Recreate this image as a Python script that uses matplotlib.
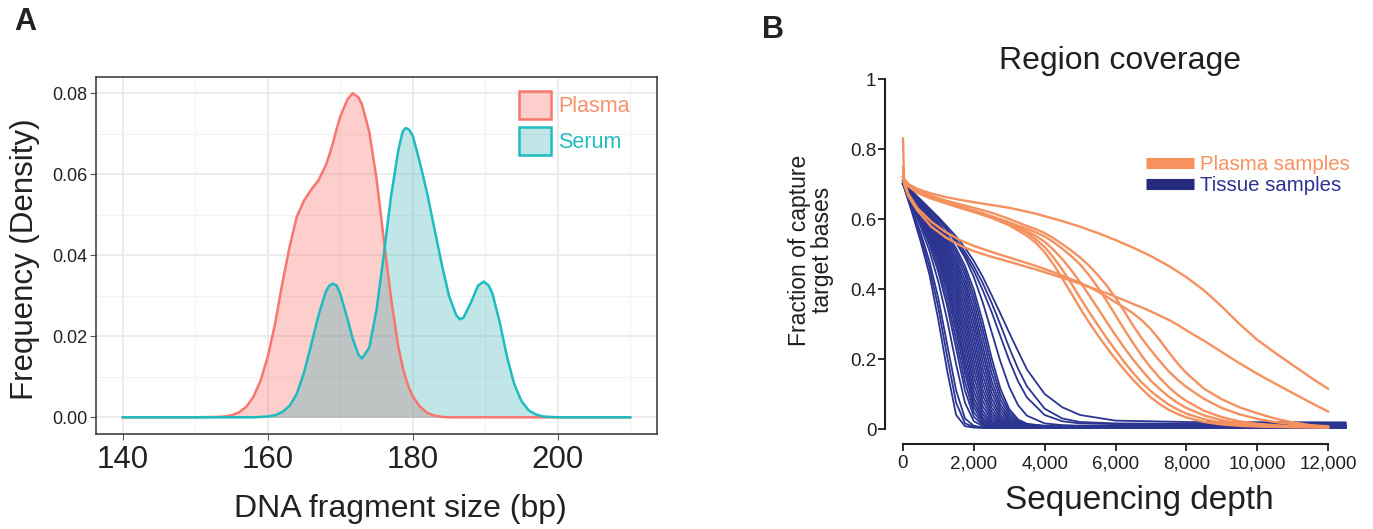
import matplotlib
matplotlib.use("Agg")
import matplotlib.pyplot as plt
from matplotlib.lines import Line2D
from matplotlib.patches import Patch

# ---------------- Panel A data ----------------
size_bp = [140, 150, 153, 154, 155, 156, 157, 158, 159, 160, 161, 162, 163, 164, 165,
           166, 167, 168, 168.5, 169, 169.5, 170, 171, 171.7, 172.5, 173, 174, 175, 176,
           177, 178, 178.6, 179, 179.5, 180, 181, 182, 183, 184, 185, 186, 186.5, 187,
           188, 189, 189.8, 190.5, 191, 192, 193, 194, 195, 196, 197, 198, 199, 200, 210]
plasma_density = [0, 0, 0.0001, 0.0002, 0.0005, 0.0012, 0.0025, 0.005, 0.009, 0.015,
                  0.023, 0.033, 0.042, 0.0495, 0.0535, 0.0562, 0.0585, 0.0622, 0.0648,
                  0.0678, 0.0712, 0.0742, 0.0785, 0.0800, 0.0790, 0.0772, 0.0705, 0.0590,
                  0.0440, 0.0295, 0.0175, 0.0125, 0.0098, 0.0072, 0.0052, 0.0026, 0.0011,
                  0.0004, 0.0001, 0, 0, 0, 0, 0, 0, 0, 0, 0, 0, 0, 0, 0, 0, 0, 0, 0, 0, 0]
serum_density = [0, 0, 0, 0, 0, 0, 0, 0, 0.0001, 0.0002, 0.0005, 0.0013, 0.0028, 0.0058,
                 0.011, 0.018, 0.0252, 0.031, 0.0325, 0.0330, 0.0325, 0.0305, 0.0243,
                 0.0195, 0.0155, 0.0145, 0.0172, 0.0265, 0.040, 0.0545, 0.0658, 0.0705,
                 0.0714, 0.0710, 0.0695, 0.0628, 0.0552, 0.0465, 0.0378, 0.0300, 0.0252,
                 0.0242, 0.0246, 0.0282, 0.0325, 0.0335, 0.0325, 0.0305, 0.0235, 0.0150,
                 0.0082, 0.0040, 0.0017, 0.0007, 0.0002, 0.0001, 0, 0]
a_groups = ["Plasma", "Serum"]
a_xticks = [140, 160, 180, 200]
a_xminor = [150, 170, 190, 210]
a_yticks = [0.00, 0.02, 0.04, 0.06, 0.08]
a_yminor = [0.01, 0.03, 0.05, 0.07]
a_ytick_labels = ["0.00", "0.02", "0.04", "0.06", "0.08"]

# ---------------- Panel B data ----------------
depth_plasma = [0, 30, 150, 400, 800, 1200, 1600, 2000, 2500, 3000, 3500, 3750, 4000, 4250,
                4500, 4750, 5000, 5250, 5500, 5750, 6000, 6250, 6500, 6750, 7000, 7250, 7500,
                7750, 8000, 8500, 9000, 9500, 10000, 10500, 11000, 11500, 12000]
plasma_curves = [
    [0.83, 0.715, 0.70, 0.686, 0.673, 0.663, 0.655, 0.648, 0.64, 0.632, 0.621, 0.615, 0.608, 0.601,
     0.594, 0.586, 0.578, 0.569, 0.56, 0.55, 0.54, 0.529, 0.518, 0.506, 0.494, 0.48, 0.466,
     0.45, 0.434, 0.396, 0.35, 0.30, 0.255, 0.218, 0.183, 0.148, 0.115],
    [0.73, 0.70, 0.665, 0.625, 0.578, 0.548, 0.525, 0.508, 0.492, 0.478, 0.463, 0.456, 0.448, 0.44,
     0.432, 0.424, 0.415, 0.406, 0.397, 0.388, 0.378, 0.368, 0.357, 0.347, 0.336, 0.324, 0.312,
     0.298, 0.282, 0.252, 0.22, 0.188, 0.158, 0.13, 0.103, 0.076, 0.05],
    [0.75, 0.71, 0.672, 0.632, 0.592, 0.563, 0.54, 0.523, 0.506, 0.49, 0.474, 0.466, 0.457, 0.448,
     0.438, 0.428, 0.418, 0.406, 0.393, 0.378, 0.362, 0.347, 0.33, 0.31, 0.285, 0.254, 0.22,
     0.188, 0.16, 0.115, 0.085, 0.062, 0.045, 0.03, 0.019, 0.011, 0.006],
    [0.72, 0.71, 0.698, 0.682, 0.666, 0.653, 0.642, 0.632, 0.618, 0.60, 0.58, 0.571, 0.56, 0.545,
     0.528, 0.51, 0.49, 0.467, 0.44, 0.41, 0.375, 0.336, 0.295, 0.258, 0.225, 0.194, 0.165,
     0.141, 0.12, 0.086, 0.06, 0.042, 0.029, 0.02, 0.014, 0.01, 0.008],
    [0.72, 0.705, 0.695, 0.678, 0.66, 0.647, 0.635, 0.624, 0.608, 0.59, 0.572, 0.562, 0.55, 0.534,
     0.515, 0.494, 0.47, 0.44, 0.405, 0.366, 0.325, 0.284, 0.245, 0.208, 0.175, 0.146, 0.12,
     0.098, 0.08, 0.052, 0.034, 0.022, 0.015, 0.011, 0.008, 0.007, 0.006],
    [0.72, 0.71, 0.695, 0.675, 0.658, 0.645, 0.632, 0.62, 0.603, 0.582, 0.552, 0.532, 0.505, 0.47,
     0.43, 0.388, 0.345, 0.305, 0.268, 0.233, 0.20, 0.169, 0.14, 0.114, 0.09, 0.071, 0.055,
     0.043, 0.033, 0.02, 0.013, 0.009, 0.007, 0.006, 0.005, 0.005, 0.004],
    [0.72, 0.708, 0.696, 0.678, 0.662, 0.648, 0.636, 0.624, 0.607, 0.587, 0.56, 0.542, 0.52, 0.49,
     0.455, 0.416, 0.375, 0.335, 0.297, 0.26, 0.225, 0.191, 0.16, 0.132, 0.108, 0.088, 0.07,
     0.056, 0.044, 0.028, 0.018, 0.012, 0.009, 0.007, 0.006, 0.005, 0.005],
    [0.72, 0.706, 0.694, 0.676, 0.66, 0.646, 0.634, 0.622, 0.606, 0.59, 0.565, 0.552, 0.535, 0.512,
     0.485, 0.454, 0.42, 0.383, 0.345, 0.306, 0.268, 0.232, 0.198, 0.167, 0.138, 0.114, 0.093,
     0.075, 0.06, 0.039, 0.025, 0.016, 0.011, 0.008, 0.007, 0.006, 0.005],
]

depth_tissue = [0, 100, 250, 500, 750, 1000, 1250, 1500, 1750, 2000, 2250, 2500, 2750, 3000,
                3250, 3500, 4000, 4500, 5000, 6000, 8000, 12500]
tissue_curves = [
    [0.705, 0.67, 0.62, 0.535, 0.44, 0.31, 0.165, 0.04, 0.008, 0.004, 0.003, 0.003, 0.003, 0.003, 0.003, 0.003, 0.003, 0.003, 0.003, 0.003, 0.003, 0.003],
    [0.70, 0.668, 0.625, 0.548, 0.46, 0.345, 0.205, 0.075, 0.016, 0.006, 0.004, 0.004, 0.004, 0.004, 0.004, 0.004, 0.004, 0.004, 0.004, 0.004, 0.004, 0.004],
    [0.71, 0.675, 0.632, 0.56, 0.478, 0.372, 0.24, 0.11, 0.03, 0.009, 0.005, 0.004, 0.004, 0.004, 0.004, 0.004, 0.004, 0.004, 0.004, 0.004, 0.004, 0.004],
    [0.70, 0.675, 0.64, 0.578, 0.508, 0.42, 0.31, 0.185, 0.075, 0.022, 0.009, 0.006, 0.005, 0.005, 0.005, 0.005, 0.005, 0.005, 0.005, 0.005, 0.005, 0.005],
    [0.71, 0.68, 0.645, 0.588, 0.525, 0.448, 0.35, 0.23, 0.11, 0.035, 0.012, 0.007, 0.005, 0.005, 0.005, 0.005, 0.005, 0.005, 0.005, 0.005, 0.005, 0.005],
    [0.70, 0.678, 0.646, 0.594, 0.535, 0.462, 0.37, 0.255, 0.135, 0.048, 0.016, 0.008, 0.006, 0.006, 0.006, 0.006, 0.006, 0.006, 0.006, 0.006, 0.006, 0.006],
    [0.71, 0.682, 0.65, 0.60, 0.545, 0.477, 0.39, 0.28, 0.16, 0.062, 0.021, 0.01, 0.006, 0.006, 0.006, 0.006, 0.006, 0.006, 0.006, 0.006, 0.006, 0.006],
    [0.70, 0.68, 0.651, 0.604, 0.552, 0.488, 0.405, 0.30, 0.18, 0.075, 0.026, 0.011, 0.007, 0.006, 0.006, 0.006, 0.006, 0.006, 0.006, 0.006, 0.006, 0.006],
    [0.71, 0.684, 0.654, 0.608, 0.558, 0.497, 0.418, 0.318, 0.20, 0.09, 0.033, 0.013, 0.008, 0.006, 0.006, 0.006, 0.006, 0.006, 0.006, 0.006, 0.006, 0.006],
    [0.70, 0.682, 0.655, 0.611, 0.563, 0.505, 0.432, 0.337, 0.222, 0.108, 0.042, 0.016, 0.009, 0.006, 0.006, 0.006, 0.006, 0.006, 0.006, 0.006, 0.006, 0.006],
    [0.71, 0.686, 0.657, 0.615, 0.569, 0.514, 0.445, 0.355, 0.245, 0.128, 0.052, 0.02, 0.01, 0.007, 0.007, 0.007, 0.007, 0.007, 0.007, 0.007, 0.007, 0.007],
    [0.70, 0.683, 0.657, 0.617, 0.573, 0.521, 0.456, 0.372, 0.266, 0.15, 0.065, 0.026, 0.012, 0.008, 0.007, 0.007, 0.007, 0.007, 0.007, 0.007, 0.007, 0.007],
    [0.71, 0.688, 0.661, 0.621, 0.578, 0.528, 0.467, 0.388, 0.287, 0.172, 0.08, 0.033, 0.015, 0.009, 0.007, 0.007, 0.007, 0.007, 0.007, 0.007, 0.007, 0.007],
    [0.70, 0.685, 0.66, 0.623, 0.582, 0.535, 0.477, 0.403, 0.307, 0.194, 0.096, 0.041, 0.018, 0.01, 0.007, 0.007, 0.007, 0.007, 0.007, 0.007, 0.007, 0.007],
    [0.71, 0.69, 0.664, 0.627, 0.587, 0.541, 0.486, 0.416, 0.326, 0.216, 0.113, 0.05, 0.022, 0.011, 0.008, 0.008, 0.008, 0.008, 0.008, 0.008, 0.008, 0.008],
    [0.70, 0.686, 0.663, 0.629, 0.591, 0.547, 0.495, 0.43, 0.345, 0.238, 0.132, 0.061, 0.027, 0.013, 0.008, 0.008, 0.008, 0.008, 0.008, 0.008, 0.008, 0.008],
    [0.71, 0.691, 0.667, 0.633, 0.595, 0.553, 0.503, 0.442, 0.363, 0.26, 0.152, 0.074, 0.033, 0.016, 0.009, 0.008, 0.008, 0.008, 0.008, 0.008, 0.008, 0.008],
    [0.70, 0.688, 0.666, 0.635, 0.599, 0.559, 0.512, 0.454, 0.38, 0.282, 0.173, 0.088, 0.04, 0.019, 0.01, 0.008, 0.008, 0.008, 0.008, 0.008, 0.008, 0.008],
    [0.71, 0.693, 0.67, 0.639, 0.603, 0.564, 0.519, 0.465, 0.396, 0.303, 0.195, 0.104, 0.049, 0.023, 0.012, 0.008, 0.008, 0.008, 0.008, 0.008, 0.008, 0.008],
    [0.70, 0.689, 0.668, 0.64, 0.606, 0.569, 0.527, 0.476, 0.411, 0.323, 0.217, 0.121, 0.059, 0.027, 0.013, 0.009, 0.009, 0.009, 0.009, 0.009, 0.009, 0.009],
    [0.71, 0.694, 0.672, 0.643, 0.61, 0.574, 0.534, 0.486, 0.425, 0.342, 0.238, 0.138, 0.07, 0.033, 0.016, 0.01, 0.008, 0.008, 0.008, 0.008, 0.008, 0.008],
    [0.70, 0.69, 0.67, 0.645, 0.614, 0.58, 0.542, 0.497, 0.44, 0.362, 0.262, 0.16, 0.084, 0.04, 0.019, 0.011, 0.008, 0.008, 0.008, 0.008, 0.008, 0.008],
    [0.71, 0.695, 0.674, 0.647, 0.617, 0.585, 0.549, 0.507, 0.453, 0.38, 0.285, 0.182, 0.099, 0.048, 0.023, 0.013, 0.009, 0.009, 0.009, 0.009, 0.009, 0.009],
    [0.70, 0.691, 0.672, 0.648, 0.62, 0.59, 0.556, 0.516, 0.466, 0.398, 0.307, 0.204, 0.115, 0.057, 0.027, 0.015, 0.009, 0.009, 0.009, 0.009, 0.009, 0.009],
    [0.71, 0.696, 0.676, 0.652, 0.626, 0.598, 0.567, 0.532, 0.49, 0.434, 0.362, 0.278, 0.193, 0.12, 0.068, 0.038, 0.016, 0.011, 0.009, 0.008, 0.007, 0.007],
    [0.70, 0.69, 0.673, 0.65, 0.625, 0.598, 0.568, 0.535, 0.497, 0.452, 0.397, 0.335, 0.265, 0.196, 0.136, 0.09, 0.04, 0.022, 0.016, 0.014, 0.013, 0.012],
    [0.71, 0.696, 0.677, 0.653, 0.628, 0.601, 0.572, 0.541, 0.506, 0.465, 0.417, 0.361, 0.298, 0.232, 0.172, 0.122, 0.058, 0.03, 0.02, 0.016, 0.015, 0.015],
    [0.71, 0.697, 0.68, 0.655, 0.63, 0.605, 0.578, 0.55, 0.518, 0.48, 0.435, 0.383, 0.33, 0.275, 0.222, 0.17, 0.10, 0.062, 0.04, 0.024, 0.02, 0.019],
]
b_series = ["Plasma samples", "Tissue samples"]
b_xticks = [0, 2000, 4000, 6000, 8000, 10000, 12000]
b_xtick_labels = ["0", "2,000", "4,000", "6,000", "8,000", "10,000", "12,000"]
b_yticks = [0, 0.2, 0.4, 0.6, 0.8, 1]
b_ytick_labels = ["0", "0.2", "0.4", "0.6", "0.8", "1"]

# ---------------- Styling ----------------
W, H = 1373, 529
REG = ['Liberation Sans', 'DejaVu Sans']
plt.rcParams['font.family'] = REG

PLASMA_A = '#F8766D'
SERUM_A = '#1DBCC0'
SERUM_FILL = '#20A8AD'
ORANGE = '#F5915F'
BLUE = '#2B3591'
TXT = '#231F20'


def fx(px):
    return px / W


def fy(py):
    return 1 - py / H


fig = plt.figure(figsize=(W / 100, H / 100), dpi=100)

# ================= Panel A =================
axA = fig.add_axes([fx(96), fy(433.5), fx(657) - fx(96), fy(77) - fy(433.5)])
axA.set_xlim(136.3, 213.7)
axA.set_ylim(-0.004, 0.084)
axA.set_axisbelow(True)
axA.set_xticks(a_xticks)
axA.set_xticks(a_xminor, minor=True)
axA.set_yticks(a_yticks)
axA.set_yticks(a_yminor, minor=True)
axA.grid(which='major', color='#EBEBEB', lw=1.3)
axA.grid(which='minor', color='#F2F2F2', lw=0.8)

axA.fill_between(size_bp, plasma_density, 0, color=PLASMA_A, alpha=0.35, lw=0)
axA.plot(size_bp, plasma_density, color=PLASMA_A, lw=1.8)
axA.fill_between(size_bp, serum_density, 0, color=SERUM_FILL, alpha=0.28, lw=0)
axA.plot(size_bp, serum_density, color=SERUM_A, lw=1.8)

for s in axA.spines.values():
    s.set_color('#333333')
    s.set_linewidth(1.1)
axA.tick_params(which='major', length=4, width=0.8, color='#555555')
axA.tick_params(which='minor', length=0)
axA.set_xticklabels([str(v) for v in a_xticks], fontsize=22.5, color='#222222')
axA.set_yticklabels(a_ytick_labels, fontsize=13, color='#222222')
axA.tick_params(axis='x', pad=4)
axA.tick_params(axis='y', pad=2)

fig.text(fx(25), fy(259), "Frequency (Density)", rotation=90, fontsize=22.5,
         ha='center', va='center', color='#222222')
fig.text(fx(400), fy(509), "DNA fragment size (bp)", fontsize=23,
         ha='center', va='center', color='#222222')

axA.legend(
    handles=[Patch(facecolor=(0.973, 0.463, 0.427, 0.35), edgecolor=PLASMA_A, lw=1.8),
             Patch(facecolor=(0.125, 0.659, 0.678, 0.28), edgecolor=SERUM_A, lw=1.8)],
    labels=a_groups, loc='upper left', bbox_to_anchor=(fx(519), fy(91)),
    bbox_transform=fig.transFigure, frameon=False, fontsize=15.5,
    handlelength=1.5, handleheight=1.6, handletextpad=0.3, labelspacing=0.4,
    borderpad=0, borderaxespad=0, labelcolor=['#F8936E', '#20BDC2'])

fig.text(fx(25), fy(22), "A", fontsize=22, fontweight='bold', ha='center', va='center',
         color='#222222')

# ================= Panel B =================
axB = fig.add_axes([fx(881.75), fy(446.5), fx(1349.25) - fx(881.75), fy(72) - fy(446.5)])
axB.set_xlim(-600, 12600)
axB.set_ylim(-0.05, 1.02)

for ys in tissue_curves:
    axB.plot(depth_tissue, ys, color=BLUE, lw=1.3, solid_joinstyle='round')
for ys in plasma_curves:
    axB.plot(depth_plasma, ys, color=ORANGE, lw=1.7, solid_joinstyle='round')

axB.spines['top'].set_visible(False)
axB.spines['right'].set_visible(False)
axB.spines['left'].set_position(('data', -500))
axB.spines['left'].set_bounds(0, 1)
axB.spines['bottom'].set_position(('data', -0.043))
axB.spines['bottom'].set_bounds(0, 12000)
for k in ('left', 'bottom'):
    axB.spines[k].set_color(TXT)
    axB.spines[k].set_linewidth(1.5)
axB.set_xticks(b_xticks)
axB.set_xticklabels(b_xtick_labels, fontsize=13.5, color=TXT)
axB.set_yticks(b_yticks)
axB.set_yticklabels(b_ytick_labels, fontsize=13.5, color=TXT)
axB.tick_params(length=5, width=1.3, color=TXT)
axB.tick_params(axis='y', pad=1.5)
axB.tick_params(axis='x', pad=3)

fig.text(fx(1120), fy(61), "Region coverage", fontsize=23, ha='center', va='center',
         color=TXT)
fig.text(fx(811), fy(250), "Fraction of capture\ntarget bases", rotation=90,
         fontsize=16.5, ha='center', va='center', color=TXT, linespacing=1.05)
fig.text(fx(1139), fy(501), "Sequencing depth", fontsize=24, ha='center', va='center',
         color=TXT)

fig.legend(
    handles=[Line2D([], [], color='#F7925E', lw=8, solid_capstyle='butt'),
             Line2D([], [], color='#262B7D', lw=8, solid_capstyle='butt')],
    labels=b_series, loc='upper left', bbox_to_anchor=(fx(1146), fy(155)),
    frameon=False, fontsize=14.7, handlelength=2.35, handletextpad=0.3,
    labelspacing=0.12, borderpad=0, borderaxespad=0,
    labelcolor=['#F7925E', '#2E3192'])

fig.text(fx(773), fy(30), "B", fontsize=22, fontweight='bold', ha='center', va='center',
         color='#222222')

fig.savefig("out.png", dpi=100)
